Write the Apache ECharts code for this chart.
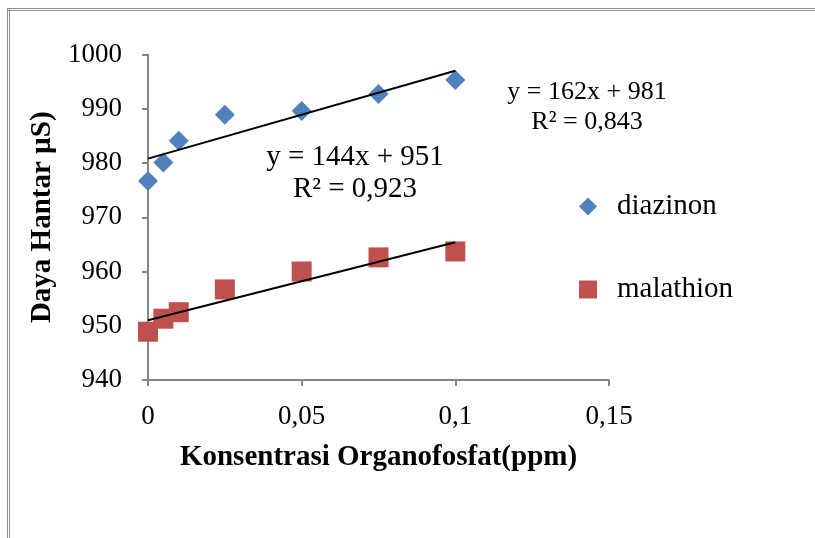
<!DOCTYPE html>
<html>
<head>
<meta charset="utf-8">
<script src="https://cdn.jsdelivr.net/npm/echarts@6/dist/echarts.min.js"></script>
<style>
  html, body { margin: 0; padding: 0; background: #fff; overflow: hidden; }
  #chart { width: 815px; height: 538px; }
  .rule { position: absolute; pointer-events: none; }
  #rule-top { left: 7px; top: 8px; width: 1000px; height: 0; border-top: 3px double #8f8f8f; }
  #rule-left { left: 7px; top: 8px; width: 0; height: 1000px; border-left: 3px double #8f8f8f; }
</style>
</head>
<body>
<div id="chart"></div>
<div class="rule" id="rule-top"></div>
<div class="rule" id="rule-left"></div>
<script>
// concentrations (ppm)
const konsentrasi = [0, 0.005, 0.01, 0.025, 0.05, 0.075, 0.1];
// conductivity readings (µS)
const diazinon = [976.7, 980.1, 984.1, 988.9, 989.6, 992.7, 995.3];
const malathion = [948.9, 951.3, 952.5, 956.7, 960.0, 962.6, 963.7];
// trendline end points
const diazinonFitX = [0, 0.1];
const diazinonFitY = [980.8, 997.0];
const malathionFitX = [0, 0.1];
const malathionFitY = [951.0, 965.4];

const zip = (xs, ys) => xs.map((x, i) => [x, ys[i]]);

const chart = echarts.init(document.getElementById('chart'));
const font = '"Liberation Serif", "Times New Roman", serif';

const option = {
  animation: false,
  textStyle: { fontFamily: font },
  grid: { left: 148, right: 206, top: 54.5, bottom: 158, containLabel: false },
  xAxis: {
    type: 'value', min: 0, max: 0.15, interval: 0.05,
    name: 'Konsentrasi Organofosfat(ppm)', nameLocation: 'middle', nameGap: 63,
    nameTextStyle: { fontFamily: font, fontSize: 29, fontWeight: 'bold', color: '#000' },
    axisLine: { lineStyle: { color: '#868686', width: 2 } },
    axisTick: { show: true, length: 6, lineStyle: { color: '#868686', width: 2 } },
    axisLabel: {
      fontFamily: font, fontSize: 27, color: '#000', margin: 23,
      formatter: v => String(+v.toFixed(2)).replace('.', ',')
    },
    splitLine: { show: false }
  },
  yAxis: {
    type: 'value', min: 940, max: 1000, interval: 10,
    name: 'Daya Hantar µS)', nameLocation: 'middle', nameGap: 91, nameRotate: 90,
    nameTextStyle: { fontFamily: font, fontSize: 29, fontWeight: 'bold', color: '#000' },
    axisLine: { show: true, lineStyle: { color: '#868686', width: 2 } },
    axisTick: { show: true, length: 6, lineStyle: { color: '#868686', width: 2 } },
    axisLabel: { fontFamily: font, fontSize: 27, color: '#000', margin: 26, formatter: v => String(v) },
    splitLine: { show: false }
  },
  legend: {
    data: [
      { name: 'diazinon', icon: 'diamond' },
      { name: 'malathion', icon: 'rect' }
    ],
    orient: 'vertical', left: 574, top: 187,
    itemWidth: 18, itemHeight: 18, itemGap: 54,
    textStyle: { fontFamily: font, fontSize: 29, color: '#000', padding: [0, 0, 0, 15] }
  },
  series: [
    {
      name: 'diazinon', type: 'scatter', symbol: 'diamond', symbolSize: 20,
      itemStyle: { color: '#4F81BD', opacity: 1 }, data: zip(konsentrasi, diazinon), z: 3
    },
    {
      name: 'malathion', type: 'scatter', symbol: 'rect', symbolSize: 20,
      itemStyle: { color: '#C0504D', opacity: 1 }, data: zip(konsentrasi, malathion), z: 3
    },
    {
      name: 'diazinon trend', type: 'line', showSymbol: false, silent: true,
      lineStyle: { color: '#000', width: 2 }, data: zip(diazinonFitX, diazinonFitY), z: 4
    },
    {
      name: 'malathion trend', type: 'line', showSymbol: false, silent: true,
      lineStyle: { color: '#000', width: 2 }, data: zip(malathionFitX, malathionFitY), z: 4
    }
  ],
  graphic: [
    {
      type: 'text', x: 355, y: 141,
      style: {
        text: 'y = 144x + 951\nR² = 0,923', fill: '#000',
        font: '29px ' + font, align: 'center', lineHeight: 32
      }
    },
    {
      type: 'text', x: 587, y: 77,
      style: {
        text: 'y = 162x + 981\nR² = 0,843', fill: '#000',
        font: '26px ' + font, align: 'center', lineHeight: 30
      }
    }
  ]
};

chart.setOption(option);
</script>
</body>
</html>
